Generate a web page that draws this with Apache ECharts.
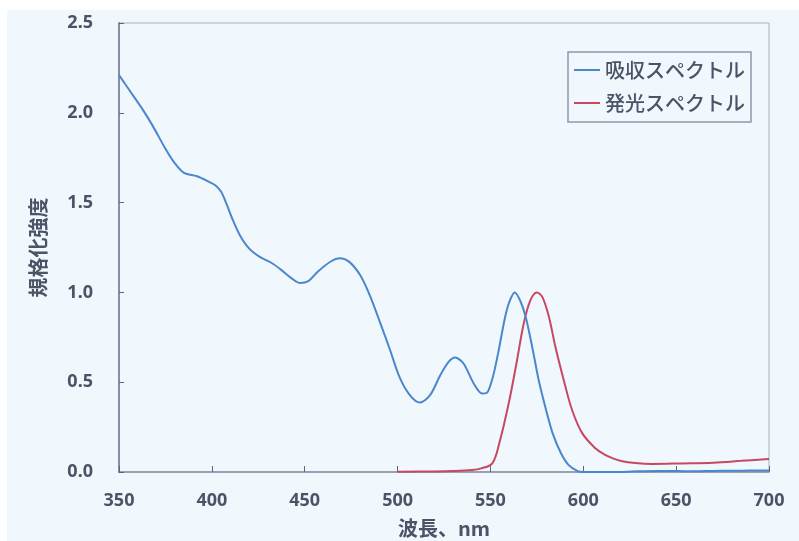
<!DOCTYPE html>
<html>
<head>
<meta charset="utf-8">
<style>
  html, body { margin: 0; padding: 0; background: #ffffff; }
  #chart { width: 799px; height: 541px; }
</style>
<script src="https://cdn.jsdelivr.net/npm/echarts@6/dist/echarts.min.js"></script>
</head>
<body>
<div id="chart"></div>
<script>
// Absorption spectrum (normalized)
const absWavelength = [350, 356, 362, 368, 375, 380, 385, 392, 399, 402, 405, 408, 411, 415, 420, 426, 432, 437, 443, 447.5, 452, 457, 464, 469, 474, 480, 485, 490.5, 496, 501, 506.5, 512, 517.5, 523, 527.5, 531, 535.5, 541, 545.5, 548, 550.5, 552.5, 554.5, 556.5, 558.5, 560.5, 563, 566, 569, 572.5, 576, 580, 583.5, 588, 592, 597, 600, 610, 620, 630, 640, 650, 660, 670, 680, 690, 700];
const absValues = [2.21, 2.12, 2.03, 1.93, 1.80, 1.72, 1.665, 1.647, 1.613, 1.595, 1.56, 1.49, 1.41, 1.32, 1.245, 1.196, 1.165, 1.128, 1.078, 1.052, 1.063, 1.115, 1.172, 1.19, 1.17, 1.094, 0.985, 0.835, 0.678, 0.53, 0.43, 0.387, 0.428, 0.539, 0.613, 0.637, 0.604, 0.493, 0.437, 0.44, 0.5, 0.58, 0.68, 0.79, 0.89, 0.955, 1.0, 0.955, 0.863, 0.696, 0.511, 0.344, 0.215, 0.104, 0.04, 0.005, 0.0, 0.0, 0.0, 0.004, 0.006, 0.005, 0.004, 0.006, 0.007, 0.008, 0.009];

// Emission spectrum (normalized)
const emWavelength = [500, 520, 530, 540, 545, 551, 555, 560, 564, 568, 571.5, 575, 578, 581.5, 585, 589.5, 594, 599.5, 606.5, 611, 616, 621, 628, 637, 653, 670, 685, 696, 700];
const emValues = [0.002, 0.003, 0.005, 0.011, 0.02, 0.048, 0.17, 0.39, 0.604, 0.83, 0.956, 1.0, 0.974, 0.863, 0.696, 0.511, 0.344, 0.215, 0.132, 0.1, 0.076, 0.06, 0.05, 0.045, 0.048, 0.052, 0.062, 0.07, 0.072];

// Axis ticks
const xTicks = [350, 400, 450, 500, 550, 600, 650, 700];
const yTicks = [0.0, 0.5, 1.0, 1.5, 2.0, 2.5];

const seriesNames = ['吸収スペクトル', '発光スペクトル'];
const seriesColors = ['#4a87cc', '#c8485f'];

const pairs = (xs, ys) => xs.map((x, i) => [x, ys[i]]);

const labelColor = '#4b5467';
const axisColor = '#8690a3';
const fontFamily = '"Noto Sans CJK JP", "Noto Sans", sans-serif';

const chart = echarts.init(document.getElementById('chart'), null, { renderer: 'canvas' });

chart.setOption({
  backgroundColor: 'transparent',
  animation: false,
  textStyle: { fontFamily: fontFamily },
  graphic: [{
    type: 'rect',
    z: -10,
    shape: { x: 7, y: 10, width: 792, height: 531 },
    style: { fill: '#f1f8fd' },
    silent: true
  }],
  grid: {
    left: 119, right: 30, top: 23, bottom: 69,
    outerBoundsMode: 'none',
    containLabel: false,
    show: true,
    borderColor: '#a9b1c1',
    borderWidth: 1,
    backgroundColor: 'transparent'
  },
  legend: {
    show: true,
    orient: 'vertical',
    left: 568,
    top: 52,
    padding: [8, 6, 9, 6],
    itemGap: 13,
    itemWidth: 26,
    itemHeight: 2,
    icon: 'rect',
    borderColor: '#8d98ac',
    borderWidth: 1.5,
    backgroundColor: '#f1f8fd',
    textStyle: { fontSize: 20, color: labelColor, fontWeight: 500, fontFamily: fontFamily },
    data: seriesNames
  },
  xAxis: {
    type: 'value',
    min: xTicks[0],
    max: xTicks[xTicks.length - 1],
    interval: 50,
    name: '波長、nm',
    nameLocation: 'middle',
    nameGap: 46,
    nameTextStyle: { fontSize: 20, fontWeight: 'bold', color: labelColor },
    axisLine: { show: true, onZero: false, lineStyle: { color: axisColor, width: 1.5 } },
    axisTick: { show: true, inside: true, length: 6, lineStyle: { color: '#5d6678', width: 1 } },
    splitLine: { show: false },
    axisLabel: { margin: 20, fontSize: 18, fontWeight: 'bold', color: labelColor, fontFamily: '"Noto Sans", sans-serif' }
  },
  yAxis: {
    type: 'value',
    min: yTicks[0],
    max: yTicks[yTicks.length - 1],
    interval: 0.5,
    name: '規格化強度',
    nameLocation: 'middle',
    nameRotate: 90,
    nameGap: 71,
    nameTextStyle: { fontSize: 20, fontWeight: 'bold', color: labelColor },
    axisLine: { show: true, lineStyle: { color: axisColor, width: 2 } },
    axisTick: { show: true, inside: true, length: 5, lineStyle: { color: '#5d6678', width: 1 } },
    splitLine: { show: false },
    axisLabel: {
      margin: 26, fontSize: 18, fontWeight: 'bold', color: labelColor, fontFamily: '"Noto Sans", sans-serif',
      formatter: v => v.toFixed(1)
    }
  },
  series: [
    {
      name: seriesNames[0],
      type: 'line',
      data: pairs(absWavelength, absValues),
      smooth: 0.3,
      showSymbol: false,
      symbol: 'none',
      color: seriesColors[0],
      lineStyle: { color: seriesColors[0], width: 2 },
      z: 3
    },
    {
      name: seriesNames[1],
      type: 'line',
      data: pairs(emWavelength, emValues),
      smooth: 0.35,
      showSymbol: false,
      symbol: 'none',
      color: seriesColors[1],
      lineStyle: { color: seriesColors[1], width: 2 },
      z: 2
    }
  ]
});
</script>
</body>
</html>
